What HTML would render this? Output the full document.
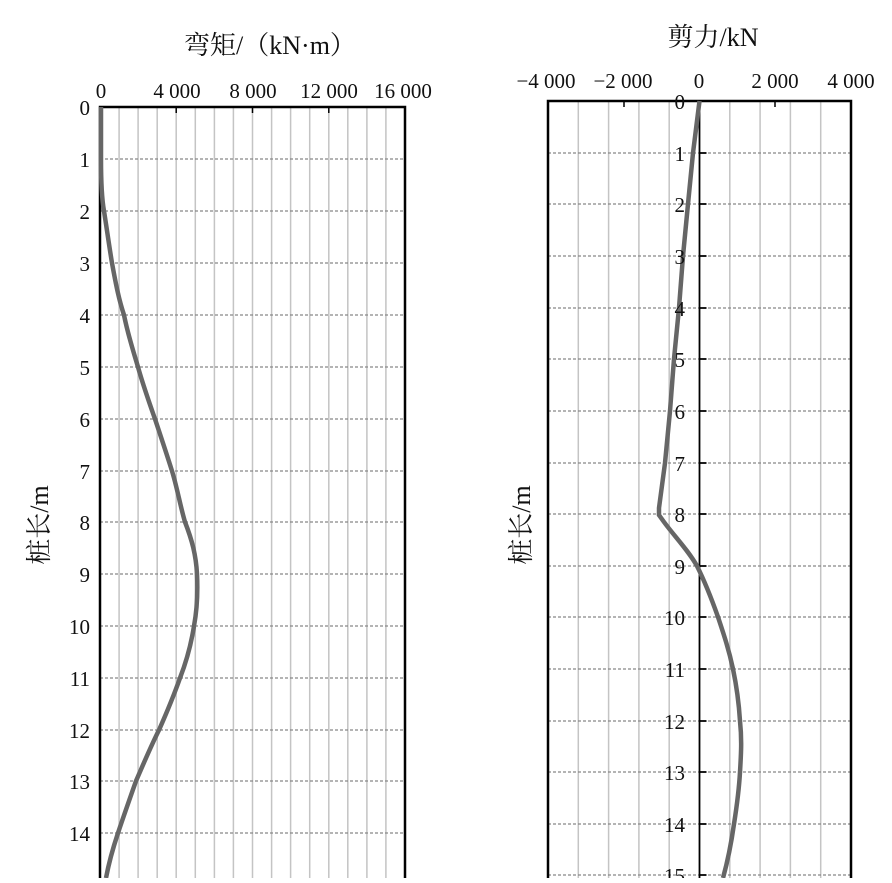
<!DOCTYPE html>
<html><head><meta charset="utf-8"><style>body{margin:0;background:#fff}</style></head>
<body>
<svg width="892" height="878" xmlns="http://www.w3.org/2000/svg" font-family="'Liberation Serif','Noto Serif CJK SC',serif">
<rect width="892" height="878" fill="#fff"/>
<g id="L">
<g stroke="#c4c4c4" stroke-width="1.5">
<line x1="119.1" y1="107" x2="119.1" y2="878"/><line x1="138.1" y1="107" x2="138.1" y2="878"/><line x1="157.2" y1="107" x2="157.2" y2="878"/><line x1="176.2" y1="107" x2="176.2" y2="878"/><line x1="195.3" y1="107" x2="195.3" y2="878"/><line x1="214.4" y1="107" x2="214.4" y2="878"/><line x1="233.4" y1="107" x2="233.4" y2="878"/><line x1="252.5" y1="107" x2="252.5" y2="878"/><line x1="271.6" y1="107" x2="271.6" y2="878"/><line x1="290.6" y1="107" x2="290.6" y2="878"/><line x1="309.7" y1="107" x2="309.7" y2="878"/><line x1="328.8" y1="107" x2="328.8" y2="878"/><line x1="347.8" y1="107" x2="347.8" y2="878"/><line x1="366.9" y1="107" x2="366.9" y2="878"/><line x1="385.9" y1="107" x2="385.9" y2="878"/>
</g>
<g stroke="#888" stroke-width="1.2" stroke-dasharray="3,2">
<line x1="100" y1="159" x2="405" y2="159"/><line x1="100" y1="211" x2="405" y2="211"/><line x1="100" y1="263" x2="405" y2="263"/><line x1="100" y1="315" x2="405" y2="315"/><line x1="100" y1="367" x2="405" y2="367"/><line x1="100" y1="419" x2="405" y2="419"/><line x1="100" y1="471" x2="405" y2="471"/><line x1="100" y1="522" x2="405" y2="522"/><line x1="100" y1="574" x2="405" y2="574"/><line x1="100" y1="626" x2="405" y2="626"/><line x1="100" y1="678" x2="405" y2="678"/><line x1="100" y1="730" x2="405" y2="730"/><line x1="100" y1="781" x2="405" y2="781"/><line x1="100" y1="833" x2="405" y2="833"/>
</g>
<g stroke="#000" stroke-width="2.5" fill="none">
<path d="M100,878 V107 H405 V878"/>
<path d="M176.2,107v6M252.5,107v6M328.8,107v6" stroke-width="1.5"/>
</g>
<path d="M101,107 L101,159 C101,185 102,200 104,211 C107,230 109,245 112,263 C116,285 119,300 124,315 C128,335 133,350 138,367 C143,385 149,402 155,419 C161,437 167,455 172,471 C177,487 180,505 185,522 C192,540 196,555 197,574 C198,595 197,610 194,626 C191,645 187,660 180,678 C174,695 167,712 159,730 C150,748 143,765 136,781 C130,798 124,815 118,833 C113,848 109,862 106,878" fill="none" stroke="#666" stroke-width="4.5"/>
<g font-size="21" text-anchor="end" fill="#111">
<text x="90" y="115">0</text><text x="90" y="167">1</text><text x="90" y="219">2</text><text x="90" y="271">3</text><text x="90" y="323">4</text><text x="90" y="375">5</text><text x="90" y="427">6</text><text x="90" y="479">7</text><text x="90" y="530">8</text><text x="90" y="582">9</text><text x="90" y="634">10</text><text x="90" y="686">11</text><text x="90" y="738">12</text><text x="90" y="789">13</text><text x="90" y="841">14</text>
</g>
<g font-size="21" text-anchor="middle" fill="#111">
<text x="101" y="98">0</text><text x="177" y="98">4 000</text><text x="253" y="98">8 000</text><text x="329" y="98">12 000</text><text x="403" y="98">16 000</text>
</g>
<text x="270" y="54" font-size="26" text-anchor="middle" fill="#111">弯矩/（kN·m）</text>
<text transform="translate(48,525) rotate(-90)" font-size="26" text-anchor="middle" fill="#111">桩长/m</text>
</g>
<g id="R">
<g stroke="#c4c4c4" stroke-width="1.5">
<line x1="578.3" y1="101" x2="578.3" y2="878"/><line x1="608.6" y1="101" x2="608.6" y2="878"/><line x1="638.9" y1="101" x2="638.9" y2="878"/><line x1="669.2" y1="101" x2="669.2" y2="878"/><line x1="729.8" y1="101" x2="729.8" y2="878"/><line x1="760.1" y1="101" x2="760.1" y2="878"/><line x1="790.4" y1="101" x2="790.4" y2="878"/><line x1="820.7" y1="101" x2="820.7" y2="878"/>
</g>
<g stroke="#888" stroke-width="1.2" stroke-dasharray="3,2">
<line x1="548" y1="153" x2="851" y2="153"/><line x1="548" y1="204" x2="851" y2="204"/><line x1="548" y1="256" x2="851" y2="256"/><line x1="548" y1="308" x2="851" y2="308"/><line x1="548" y1="359" x2="851" y2="359"/><line x1="548" y1="411" x2="851" y2="411"/><line x1="548" y1="463" x2="851" y2="463"/><line x1="548" y1="514" x2="851" y2="514"/><line x1="548" y1="566" x2="851" y2="566"/><line x1="548" y1="617" x2="851" y2="617"/><line x1="548" y1="669" x2="851" y2="669"/><line x1="548" y1="721" x2="851" y2="721"/><line x1="548" y1="772" x2="851" y2="772"/><line x1="548" y1="824" x2="851" y2="824"/><line x1="548" y1="875" x2="851" y2="875"/>
</g>
<g stroke="#000" stroke-width="2.5" fill="none">
<path d="M548,878 V101 H851 V878"/>
<path d="M624,101v6M775,101v6" stroke-width="1.5"/>
<line x1="699.5" y1="101" x2="699.5" y2="878" stroke-width="1.8"/>
<path d="M699.5,153h7M699.5,204h7M699.5,256h7M699.5,308h7M699.5,359h7M699.5,411h7M699.5,463h7M699.5,514h7M699.5,566h7M699.5,617h7M699.5,669h7M699.5,721h7M699.5,772h7M699.5,824h7M699.5,875h7" stroke-width="1.8"/>
</g>
<path d="M699.5,101 L693,153 L688,204 L683,256 L679,308 L674,359 L670,411 L665,463 L659,508 L659,515 L664,522 C675,537 688,550 697,566 C705,582 712,600 718,617 C724,635 729,650 733,669 C737,688 739,705 740,721 C742,740 741,755 740,772 C739,790 737,805 734,824 C731,845 728,860 723,878" fill="none" stroke="#666" stroke-width="4.5"/>
<g font-size="21" text-anchor="end" fill="#111">
<text x="685" y="109">0</text><text x="685" y="161">1</text><text x="685" y="212">2</text><text x="685" y="264">3</text><text x="685" y="316">4</text><text x="685" y="367">5</text><text x="685" y="419">6</text><text x="685" y="471">7</text><text x="685" y="522">8</text><text x="685" y="574">9</text><text x="685" y="625">10</text><text x="685" y="677">11</text><text x="685" y="729">12</text><text x="685" y="780">13</text><text x="685" y="832">14</text><text x="685" y="883">15</text>
</g>
<g font-size="21" text-anchor="middle" fill="#111">
<text x="546" y="88">−4 000</text><text x="623" y="88">−2 000</text><text x="699" y="88">0</text><text x="775" y="88">2 000</text><text x="851" y="88">4 000</text>
</g>
<text x="713" y="46" font-size="26" text-anchor="middle" fill="#111">剪力/kN</text>
<text transform="translate(530,525) rotate(-90)" font-size="26" text-anchor="middle" fill="#111">桩长/m</text>
</g>
</svg>
</body></html>
